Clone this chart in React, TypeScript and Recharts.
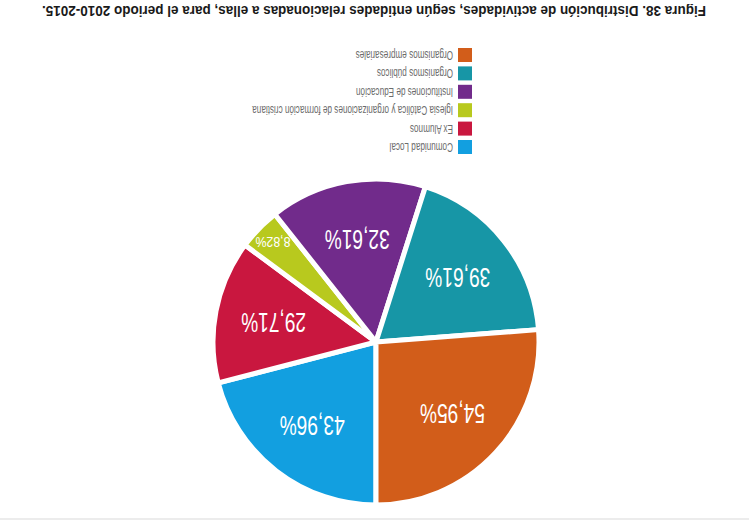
import { PieChart, Pie, Cell, Legend } from 'recharts';

// the source figure is printed upside down, so the whole chart is turned 180deg at the end

const categories = [
  'Comunidad Local',
  'Ex Alumnos',
  'Iglesia Católica y organizaciones de formación cristiana',
  'Instituciones de Educación',
  'Organismos públicos',
  'Organismos empresariales',
];
const values = [43.96, 29.71, 8.82, 32.61, 39.61, 54.95];
const sliceColors = ['#129fe0', '#c9173f', '#b8c91e', '#712b8b', '#1796a6', '#d25d1a'];
const title =
  'Figura 38. Distribución de actividades, según entidades relacionadas a ellas, para el periodo 2010-2015.';

const chartData = categories.map((name, i) => ({ name, value: values[i] }));

const RADIAN = Math.PI / 180;
const labelFont = '"Liberation Sans", Arial, sans-serif';

function renderLabel(props: any) {
  const { cx, cy, midAngle, outerRadius, value } = props;
  const small = value < 10;
  const r = outerRadius * (small ? 0.88 : 0.64);
  const x = cx + r * Math.cos(-midAngle * RADIAN);
  const y = cy + r * Math.sin(-midAngle * RADIAN);
  const text = value.toFixed(2).replace('.', ',') + '%';
  return (
    <text
      x={x}
      y={y}
      fill="#ffffff"
      textAnchor="middle"
      dominantBaseline="central"
      fontFamily={labelFont}
      fontSize={small ? 14 : 27}
      textLength={small ? 35 : 65}
      lengthAdjust="spacingAndGlyphs"
    >
      {text}
    </text>
  );
}

function LegendContent() {
  return (
    <svg width={260} height={120}>
      {chartData.map((d, i) => (
        <g key={d.name} transform={`translate(0, ${i * 18.4})`}>
          <rect x={0} y={0} width={14} height={14} fill={sliceColors[i]} />
          <text
            transform="translate(19, 11) scale(0.68, 1)"
            fill="#6b6b6b"
            fontFamily={labelFont}
            fontSize={12}
          >
            {d.name}
          </text>
        </g>
      ))}
    </svg>
  );
}

export default function App() {
  return (
    <div
      style={{
        position: 'absolute',
        left: 0,
        top: 0,
        width: 749,
        height: 520,
        background: '#ffffff',
        transform: 'rotate(180deg)',
        overflow: 'hidden',
      }}
    >
      <div style={{ position: 'absolute', left: 0, top: 0, width: 749, height: 2, background: '#ececec' }} />
      <PieChart width={749} height={520} margin={{ top: 0, right: 0, bottom: 0, left: 0 }}>
        <Pie
          data={chartData}
          dataKey="value"
          nameKey="name"
          cx={373}
          cy={178}
          outerRadius={163}
          startAngle={90}
          endAngle={-270}
          stroke="#ffffff"
          strokeWidth={5}
          label={renderLabel}
          labelLine={false}
          isAnimationActive={false}
        >
          {chartData.map((d, i) => (
            <Cell key={d.name} fill={sliceColors[i]} />
          ))}
        </Pie>
        <Legend
          layout="vertical"
          align="center"
          verticalAlign="middle"
          content={<LegendContent />}
          wrapperStyle={{ left: 277, top: 366, width: 260, height: 120 }}
        />
      </PieChart>
      <svg
        width={749}
        height={28}
        style={{ position: 'absolute', left: 0, top: 488 }}
      >
        <text
          x={43}
          y={26}
          fontFamily={labelFont}
          fontWeight="bold"
          fontSize={14}
          fill="#1a1a1a"
          textLength={664}
          lengthAdjust="spacingAndGlyphs"
        >
          {title}
        </text>
      </svg>
    </div>
  );
}
